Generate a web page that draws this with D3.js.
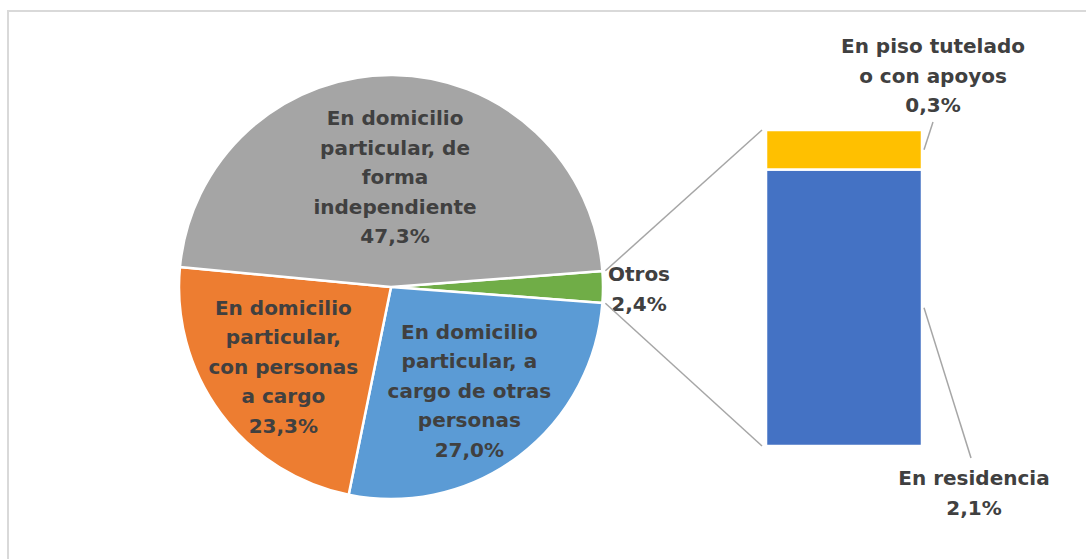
<!DOCTYPE html>
<html>
<head>
<meta charset="utf-8">
<script src="https://cdn.jsdelivr.net/npm/d3@7"></script>
<style>
  html, body { margin: 0; padding: 0; background: #ffffff; }
  svg { display: block; }
  text { font-family: "DejaVu Sans", sans-serif; font-weight: bold; fill: #404040; }
</style>
</head>
<body>
<svg id="chart" width="1086" height="559"></svg>
<script>
// ---- data ----
const pieCategories = ["Otros", "En domicilio particular, a cargo de otras personas", "En domicilio particular, con personas a cargo", "En domicilio particular, de forma independiente"];
const pieValues = [2.4, 27.0, 23.3, 47.3];
const pieLabelLines = [["Otros"], ["En domicilio", "particular, a", "cargo de otras", "personas"], ["En domicilio", "particular,", "con personas", "a cargo"], ["En domicilio", "particular, de", "forma", "independiente"]];
const pieValueLabels = ["2,4%", "27,0%", "23,3%", "47,3%"];

const barCategories = ["En residencia", "En piso tutelado o con apoyos"];
const barValues = [2.1, 0.3];
const barLabelLines = [["En residencia"], ["En piso tutelado", "o con apoyos"]];
const barValueLabels = ["2,1%", "0,3%"];

// ---- styles ----
const pieColors = ["#70ad47", "#5b9bd5", "#ed7d31", "#a5a5a5"];
const barColors = ["#4472c4", "#ffc000"];
const lineH = 29.5;

const svg = d3.select("#chart");

// frame
svg.append("rect").attr("x", 8).attr("y", 11).attr("width", 1200).attr("height", 700)
  .attr("fill", "none").attr("stroke", "#d9d9d9").attr("stroke-width", 2);

// ---- pie ----
const cx = 391, cy = 287, R = 212;
const total = d3.sum(pieValues);
const start = Math.PI / 2 - (pieValues[0] / total) * Math.PI;
const pie = d3.pie().sort(null).value(d => d).startAngle(start).endAngle(start + 2 * Math.PI);
const arcs = pie(pieValues);
const arc = d3.arc().innerRadius(0).outerRadius(R);

const g = svg.append("g").attr("transform", `translate(${cx},${cy})`);
g.selectAll("path").data(arcs).join("path")
  .attr("d", arc)
  .attr("fill", (d, i) => pieColors[i])
  .attr("stroke", "#ffffff").attr("stroke-width", 2.5).attr("stroke-linejoin", "round");

// label radii (inside slices)
const labelRadius = [0, 130, 134, 110];
function drawBlock(parent, x, yMid, lines) {
  const t = parent.append("text").attr("text-anchor", "middle").style("font-size", "20px");
  const y0 = yMid - (lines.length - 1) / 2 * lineH + 7;
  lines.forEach((l, k) => t.append("tspan").attr("x", x).attr("y", y0 + k * lineH).text(l));
}
arcs.forEach((a, i) => {
  const lines = pieLabelLines[i].concat([pieValueLabels[i]]);
  if (i === 0) {
    // Otros outside the slice
    const ang = (a.startAngle + a.endAngle) / 2;
    const rr = R + 36;
    drawBlock(g, Math.sin(ang) * rr, -Math.cos(ang) * rr + 2, lines);
  } else {
    const ang = (a.startAngle + a.endAngle) / 2;
    const rr = labelRadius[i];
    drawBlock(g, Math.sin(ang) * rr + (i === 3 ? 3 : 0), -Math.cos(ang) * rr, lines);
  }
});

// ---- bar of pie ----
const barX = 766, barW = 156;
const barTotal = d3.sum(barValues);
const y = d3.scaleLinear().domain([0, barTotal]).range([446, 130]);
const stack = [];
let acc = 0;
barValues.forEach((v, i) => { stack.push({ i, y0: acc, y1: acc + v }); acc += v; });

svg.append("g").selectAll("rect").data(stack).join("rect")
  .attr("x", barX).attr("width", barW)
  .attr("y", d => y(d.y1)).attr("height", d => y(d.y0) - y(d.y1))
  .attr("fill", d => barColors[d.i])
  .attr("stroke", "#ffffff").attr("stroke-width", 2.5);

// connector lines from Otros slice to bar
const otros = arcs[0];
const rc = R + 3;
const p1 = [cx + Math.sin(otros.startAngle) * rc, cy - Math.cos(otros.startAngle) * rc];
const p2 = [cx + Math.sin(otros.endAngle) * rc, cy - Math.cos(otros.endAngle) * rc];
svg.append("line").attr("x1", p1[0]).attr("y1", p1[1]).attr("x2", barX - 4).attr("y2", y(barTotal))
  .attr("stroke", "#a6a6a6").attr("stroke-width", 1.5);
svg.append("line").attr("x1", p2[0]).attr("y1", p2[1]).attr("x2", barX - 4).attr("y2", y(0))
  .attr("stroke", "#a6a6a6").attr("stroke-width", 1.5);

// bar labels
// yellow (top)
drawBlock(svg, 933, (53.3 + 111.7) / 2 - 7, barLabelLines[1].concat([barValueLabels[1]]));
svg.append("line").attr("x1", barX + barW + 2).attr("y1", (y(stack[1].y0) + y(stack[1].y1)) / 2)
  .attr("x2", 933).attr("y2", 122).attr("stroke", "#a6a6a6").attr("stroke-width", 1.5);
// blue (bottom)
drawBlock(svg, 974, (485 + 515) / 2 - 7, barLabelLines[0].concat([barValueLabels[0]]));
svg.append("line").attr("x1", barX + barW + 2).attr("y1", (y(stack[0].y0) + y(stack[0].y1)) / 2)
  .attr("x2", 971).attr("y2", 458).attr("stroke", "#a6a6a6").attr("stroke-width", 1.5);
</script>
</body>
</html>
